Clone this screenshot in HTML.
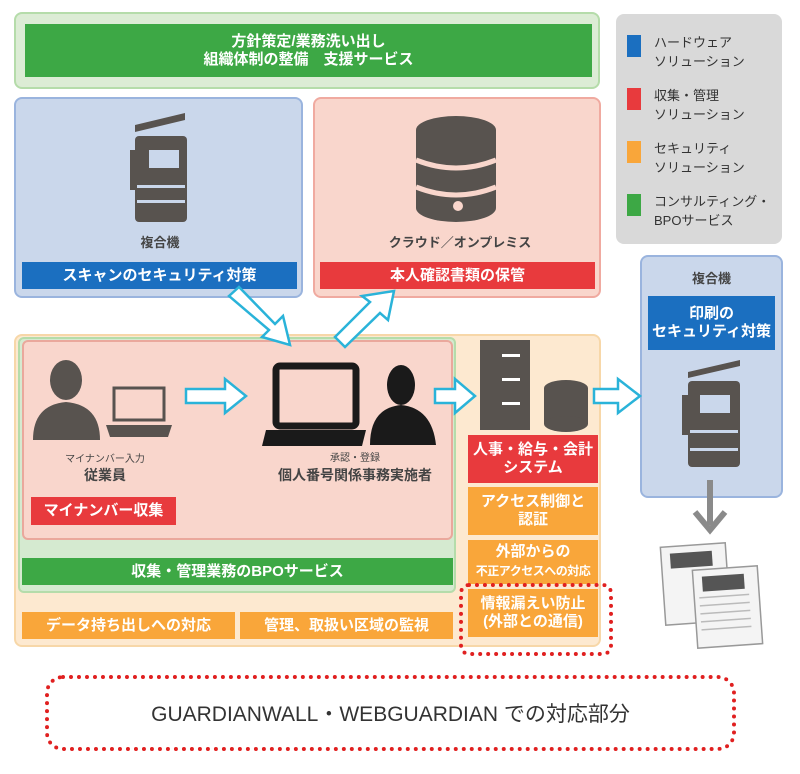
<!DOCTYPE html>
<html><head><meta charset="utf-8"><style>
body{margin:0;width:800px;height:774px;background:#fff;position:relative;overflow:hidden;font-family:"Liberation Sans","Noto Sans CJK JP",sans-serif;}
.a{position:absolute;box-sizing:border-box}
.bar{position:absolute;box-sizing:border-box;color:#fff;font-weight:bold;display:flex;align-items:center;justify-content:center;text-align:center;line-height:1.2;white-space:nowrap}
.lg{position:absolute;left:628px;font-size:13px;color:#333;line-height:19px}
.sq{position:absolute;left:627px;width:14px;height:22px}
</style></head><body>
<div class="a" style="left:14px;top:12px;width:586px;height:77px;background:#dcecd5;border:2px solid #b5dcaa;border-radius:8px"></div>
<div class="bar" style="left:25px;top:24px;width:567px;height:53px;background:#3da845;font-size:15px">方針策定/業務洗い出し<br>組織体制の整備　支援サービス</div>

<div class="a" style="left:616px;top:14px;width:166px;height:230px;background:#d9d9d9;border-radius:8px"></div>
<div class="sq" style="top:35px;background:#1b6fc0"></div><div class="lg" style="left:654px;top:33px">ハードウェア<br>ソリューション</div>
<div class="sq" style="top:88px;background:#e83a3d"></div><div class="lg" style="left:654px;top:86px">収集・管理<br>ソリューション</div>
<div class="sq" style="top:141px;background:#f9a63a"></div><div class="lg" style="left:654px;top:139px">セキュリティ<br>ソリューション</div>
<div class="sq" style="top:194px;background:#3da845"></div><div class="lg" style="left:654px;top:192px">コンサルティング・<br>BPOサービス</div>

<div class="a" style="left:14px;top:97px;width:289px;height:201px;background:#cad7eb;border:2px solid #9ab4de;border-radius:8px"></div>
<div class="a" style="left:100px;top:232px;width:120px;text-align:center;font-size:13px;font-weight:bold;color:#444">複合機</div>
<div class="bar" style="left:22px;top:262px;width:275px;height:27px;background:#1b6fc0;font-size:15px">スキャンのセキュリティ対策</div>
<div class="a" style="left:313px;top:97px;width:288px;height:201px;background:#f9d6cc;border:2px solid #f0aaa0;border-radius:8px"></div>
<div class="a" style="left:340px;top:232px;width:240px;text-align:center;font-size:13px;font-weight:bold;color:#444">クラウド／オンプレミス</div>
<div class="bar" style="left:320px;top:262px;width:275px;height:27px;background:#e83a3d;font-size:15px">本人確認書類の保管</div>

<div class="a" style="left:14px;top:334px;width:587px;height:313px;background:#fde9d0;border:2px solid #f7d7a8;border-radius:8px"></div>
<div class="a" style="left:18px;top:337px;width:438px;height:256px;background:#d5ead0;border:2px solid #b5dcaa;border-radius:6px"></div>
<div class="a" style="left:22px;top:340px;width:431px;height:200px;background:#f9d6cc;border:2px solid #eaa89c;border-radius:6px"></div>
<div class="bar" style="left:22px;top:558px;width:431px;height:27px;background:#3da845;font-size:15px">収集・管理業務のBPOサービス</div>
<div class="bar" style="left:22px;top:612px;width:213px;height:27px;background:#f9a63a;font-size:15px">データ持ち出しへの対応</div>
<div class="bar" style="left:240px;top:612px;width:213px;height:27px;background:#f9a63a;font-size:15px">管理、取扱い区域の監視</div>
<div class="a" style="left:50px;top:450px;width:110px;text-align:center;font-size:10px;color:#444">マイナンバー入力</div>
<div class="a" style="left:50px;top:465px;width:110px;text-align:center;font-size:14px;font-weight:bold;color:#444">従業員</div>
<div class="bar" style="left:31px;top:497px;width:145px;height:28px;background:#e83a3d;font-size:15px">マイナンバー収集</div>
<div class="a" style="left:300px;top:449px;width:110px;text-align:center;font-size:10px;color:#444">承認・登録</div>
<div class="a" style="left:255px;top:465px;width:200px;text-align:center;font-size:14px;font-weight:bold;color:#444">個人番号関係事務実施者</div>

<div class="bar" style="left:468px;top:435px;width:130px;height:48px;background:#e83a3d;font-size:15px">人事・給与・会計<br>システム</div>
<div class="bar" style="left:468px;top:487px;width:130px;height:48px;background:#f9a63a;font-size:15px">アクセス制御と<br>認証</div>
<div class="bar" style="left:468px;top:540px;width:130px;height:44px;background:#f9a63a;font-size:15px;line-height:1.25"><span>外部からの<br><span style="font-size:12px;letter-spacing:-0.5px">不正アクセスへの対応</span></span></div>
<div class="bar" style="left:468px;top:589px;width:130px;height:48px;background:#f9a63a;font-size:15px">情報漏えい防止<br>(外部との通信)</div>
<div class="a" style="left:459px;top:583px;width:154px;height:73px;border:4px dotted #e02020;border-radius:10px"></div>

<div class="a" style="left:640px;top:255px;width:143px;height:243px;background:#cad7eb;border:2px solid #9ab4de;border-radius:8px"></div>
<div class="a" style="left:640px;top:268px;width:143px;text-align:center;font-size:13px;font-weight:bold;color:#444">複合機</div>
<div class="bar" style="left:648px;top:296px;width:127px;height:54px;background:#1b6fc0;font-size:15px">印刷の<br>セキュリティ対策</div>

<div class="a" style="left:45px;top:675px;width:691px;height:76px;border:4px dotted #e02020;border-radius:18px;display:flex;align-items:center;justify-content:center;font-size:21px;color:#333">GUARDIANWALL・WEBGUARDIAN での対応部分</div>

<svg class="a" style="left:0;top:0" width="800" height="774">
<g fill="#58534f">
<polygon points="135,125 185,113 185,120 135,132"/>
<rect x="135" y="136" width="52" height="86" rx="4"/>
<rect x="130" y="150" width="6" height="40"/>
<rect x="149" y="150" width="30" height="18" fill="#cad7eb"/>
<rect x="137" y="185" width="48" height="3" fill="#cad7eb"/>
<rect x="137" y="200" width="48" height="3" fill="#cad7eb"/>
<ellipse cx="456" cy="130" rx="40" ry="14"/>
<rect x="416" y="130" width="80" height="78"/>
<ellipse cx="456" cy="208" rx="40" ry="14"/>
<path d="M416 160 Q456 176 496 160" stroke="#f9d6cc" stroke-width="5" fill="none"/>
<path d="M416 187 Q456 203 496 187" stroke="#f9d6cc" stroke-width="5" fill="none"/>
<circle cx="458" cy="206" r="5" fill="#f9d6cc"/>
<ellipse cx="66" cy="380" rx="16" ry="20"/>
<path d="M33 440 Q33 405 66 402 Q100 405 100 440Z"/>
<rect x="114" y="388" width="50" height="32" fill="none" stroke="#58534f" stroke-width="3"/>
<polygon points="106,425 172,425 168,437 110,437"/>
<rect x="276" y="366" width="80" height="60" rx="4" fill="none" stroke="#1a1a1a" stroke-width="7"/>
<polygon points="266,430 366,430 362,446 262,446" fill="#1a1a1a"/>
<ellipse cx="401" cy="385" rx="14" ry="20" fill="#1a1a1a"/>
<path d="M370 445 Q370 408 401 405 Q432 408 436 445Z" fill="#1a1a1a"/>
<rect x="480" y="340" width="50" height="90"/>
<g fill="#fff"><rect x="502" y="354" width="18" height="3"/><rect x="502" y="378" width="18" height="3"/><rect x="502" y="402" width="18" height="3"/></g>
<ellipse cx="566" cy="388" rx="22" ry="8"/><rect x="544" y="388" width="44" height="36"/><ellipse cx="566" cy="424" rx="22" ry="8"/>
<polygon points="688,372 740,360 740,366 688,378"/>
<rect x="688" y="381" width="52" height="86" rx="4"/>
<rect x="682" y="395" width="6" height="40"/>
<rect x="700" y="395" width="30" height="18" fill="#cad7eb"/>
<rect x="690" y="430" width="48" height="3" fill="#cad7eb"/>
<rect x="690" y="448" width="48" height="3" fill="#cad7eb"/>
</g>
<path d="M710 480 V525 M695 512 L710 530 L725 512" stroke="#8a8a8a" stroke-width="6" fill="none"/>
<g stroke="#999" stroke-width="1.5" fill="#f4f4f4">
<rect x="663" y="545" width="65" height="78" transform="rotate(-4 695 584)"/>
<rect x="695" y="568" width="65" height="78" transform="rotate(-4 727 607)"/>
</g>
<rect x="672" y="552" width="42" height="15" fill="#555" transform="rotate(-4 695 584)"/>
<rect x="704" y="575" width="42" height="15" fill="#555" transform="rotate(-4 727 607)"/>
<g stroke="#bbb" stroke-width="1.5">
<path d="M700 596 H750 M700 604 H750 M700 612 H750 M700 620 H750 M700 628 H750" transform="rotate(-4 727 607)"/>
</g>
<g fill="#fff" stroke="#2ab3d9" stroke-width="2.5" stroke-linejoin="miter">
<path d="M186 389 H225 V379 L246 396 L225 413 V403 H186Z"/>
<path d="M435 389 H455 V379 L475 396 L455 413 V403 H435Z"/>
<path d="M594 389 H618 V379 L640 396 L618 413 V403 H594Z"/>
<path d="M229 296 L239 287 L275 324 L283 316 L290 345 L262 337 L269 330Z"/>
<path d="M335 337 L370 302 L362 296 L394 291 L388 320 L380 313 L345 347Z"/>
</g>
</svg>
</body></html>
